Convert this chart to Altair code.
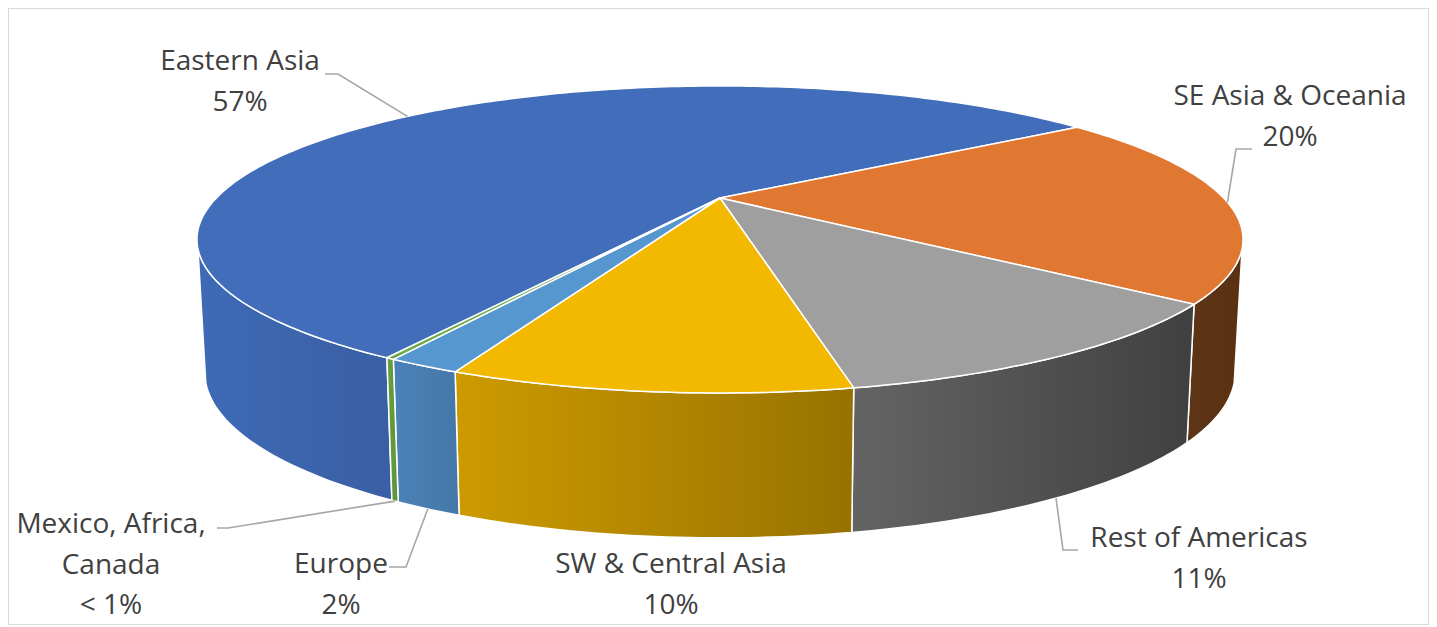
import math
import altair as alt
import pandas as pd

# ---------------- data ----------------
categories = ["Eastern Asia", "SE Asia & Oceania", "Rest of Americas",
              "SW & Central Asia", "Europe", "Mexico, Africa, Canada"]
shares = [56.8, 20.4, 11.2, 9.6, 1.8, 0.2]
label_lines = [["Eastern Asia"], ["SE Asia & Oceania"], ["Rest of Americas"],
               ["SW & Central Asia"], ["Europe"], ["Mexico, Africa,", "Canada"]]

# ---------------- style ----------------
top_colors = ["#416DBB", "#E07832", "#9F9F9F", "#F3B800", "#5797D0", "#6AAB45"]
side_colors = [("#3E6AB6", "#3A5FA4"), ("#5E3516", "#5A3012"), ("#646464", "#404040"),
               ("#CD9B00", "#977200"), ("#4B82B8", "#4577A8"), ("#66A13F", "#5C9338")]

W, H = 1421, 617          # chart size
OFF = 8                   # page margin
CX, CY = 720, 198         # pie apex (page px)
RX, RY = 503.6, 142.3     # ellipse radii
K = 0.27                  # perspective strength
DEPTH, KD = 129, 0.11     # side depth and its perspective
SHRINK = 0.985            # bottom contour slightly narrower
START = 120.5             # first slice start angle (screen, clockwise from 3 o'clock)
SIDE_LO, SIDE_HI = 19, 161

# label layout: centre x, first baseline, leader start & elbow, where the leader ends
label_layout = {
    "Eastern Asia": dict(x=240, y=70, lead=[(325, 74), (338, 74)], edge="top"),
    "SE Asia & Oceania": dict(x=1290, y=105, lead=[(1252, 149), (1236, 149)], edge="top"),
    "Rest of Americas": dict(x=1199, y=547, lead=[(1078, 550), (1063, 550)], edge="bottom"),
    "SW & Central Asia": dict(x=671, y=573, lead=None, edge=None),
    "Europe": dict(x=341, y=573, lead=[(389, 567), (406, 567)], edge="bottom"),
    "Mexico, Africa, Canada": dict(x=111, y=533, lead=[(217, 528), (228, 528)], edge="bottom"),
}
LINE_H = 40.5


def top_pt(deg):
    t = math.radians(deg)
    u, v = math.cos(t), math.sin(t)
    s = 1.0 / (1 - K * v)
    return CX + RX * u * s, CY + RY * v * s


def bottom_pt(deg):
    x, y = top_pt(deg)
    v = math.sin(math.radians(deg))
    return CX + (x - CX) * SHRINK, y + DEPTH / (1 - KD * v)


def arc(a, b, fn):
    n = max(2, int(abs(b - a)) + 2)
    return [fn(a + (b - a) * i / (n - 1)) for i in range(n)]


total = sum(shares)
angles = []
acc = START
for s in shares:
    a = acc
    b = acc + 360.0 * s / total
    angles.append((a, b))
    acc = b

top_rows, side_rows = [], []
for ci, (cat, (a, b)) in enumerate(zip(categories, angles)):
    pts = [(CX, CY)] + arc(a, b, top_pt) + [(CX, CY)]
    for i, (x, y) in enumerate(pts):
        top_rows.append(dict(pid=ci, slice=cat, i=i, x=x - OFF, y=y - OFF))
    for m in (-1, 0, 1, 2):
        lo = max(a, SIDE_LO + 360 * m)
        hi = min(b, SIDE_HI + 360 * m)
        if hi > lo:
            p = arc(lo, hi, top_pt) + arc(hi, lo, bottom_pt)
            p = p + [p[0]]
            for i, (x, y) in enumerate(p):
                side_rows.append(dict(pid=ci, slice=cat, i=i, x=x - OFF, y=y - OFF))

top_df = pd.DataFrame(top_rows)
side_df = pd.DataFrame(side_rows)

text_rows, lead_rows = [], []
for cat, s, lines, (a, b) in zip(categories, shares, label_lines, angles):
    lay = label_layout[cat]
    pct = f"{round(s)}%" if s >= 1 else "< 1%"
    for j, t in enumerate(lines + [pct]):
        text_rows.append(dict(t=t, x=lay["x"] - OFF, y=lay["y"] + j * LINE_H - OFF))
    if lay["lead"]:
        mid = (a + b) / 2
        end = top_pt(mid) if lay["edge"] == "top" else bottom_pt(mid)
        for i, (x, y) in enumerate(lay["lead"] + [end]):
            lead_rows.append(dict(label=cat, i=i, x=x - OFF, y=y - OFF))

text_df = pd.DataFrame(text_rows)
lead_df = pd.DataFrame(lead_rows)

xs = alt.X("x:Q", scale=alt.Scale(domain=[0, W], nice=False, zero=False), axis=None)
ys = alt.Y("y:Q", scale=alt.Scale(domain=[0, H], nice=False, zero=False, reverse=True), axis=None)

layers = []
for ci in range(len(categories)):
    d = side_df[side_df.pid == ci]
    if len(d) == 0:
        continue
    c1, c2 = side_colors[ci]
    grad = alt.Gradient(gradient="linear",
                        stops=[alt.GradientStop(color=c1, offset=0),
                               alt.GradientStop(color=c2, offset=1)],
                        x1=0, x2=1, y1=0, y2=0)
    layers.append(alt.Chart(d).mark_line(fill=grad, stroke="white", strokeWidth=1.5,
                                         strokeJoin="round")
                  .encode(x=xs, y=ys, order=alt.Order("i:Q")))

for ci in range(len(categories)):
    d = top_df[top_df.pid == ci]
    layers.append(alt.Chart(d).mark_line(fill=top_colors[ci], stroke="white", strokeWidth=1.5,
                                         strokeJoin="round")
                  .encode(x=xs, y=ys, order=alt.Order("i:Q")))

layers.append(alt.Chart(lead_df).mark_line(stroke="#A6A6A6", strokeWidth=1.6)
              .encode(x=xs, y=ys, detail="label:N", order=alt.Order("i:Q")))

layers.append(alt.Chart(text_df).mark_text(font="Open Sans", fontSize=28, color="#404040",
                                           align="center", baseline="alphabetic")
              .encode(x=xs, y=ys, text="t:N"))

chart = alt.layer(*layers).properties(
    width=W, height=H,
    autosize=alt.AutoSizeParams(type="fit", contains="padding"),
    padding=0,
).configure_view(stroke="#D9D9D9", strokeWidth=2)

chart.save("out.html", embed_options={"renderer": "svg", "actions": False})
